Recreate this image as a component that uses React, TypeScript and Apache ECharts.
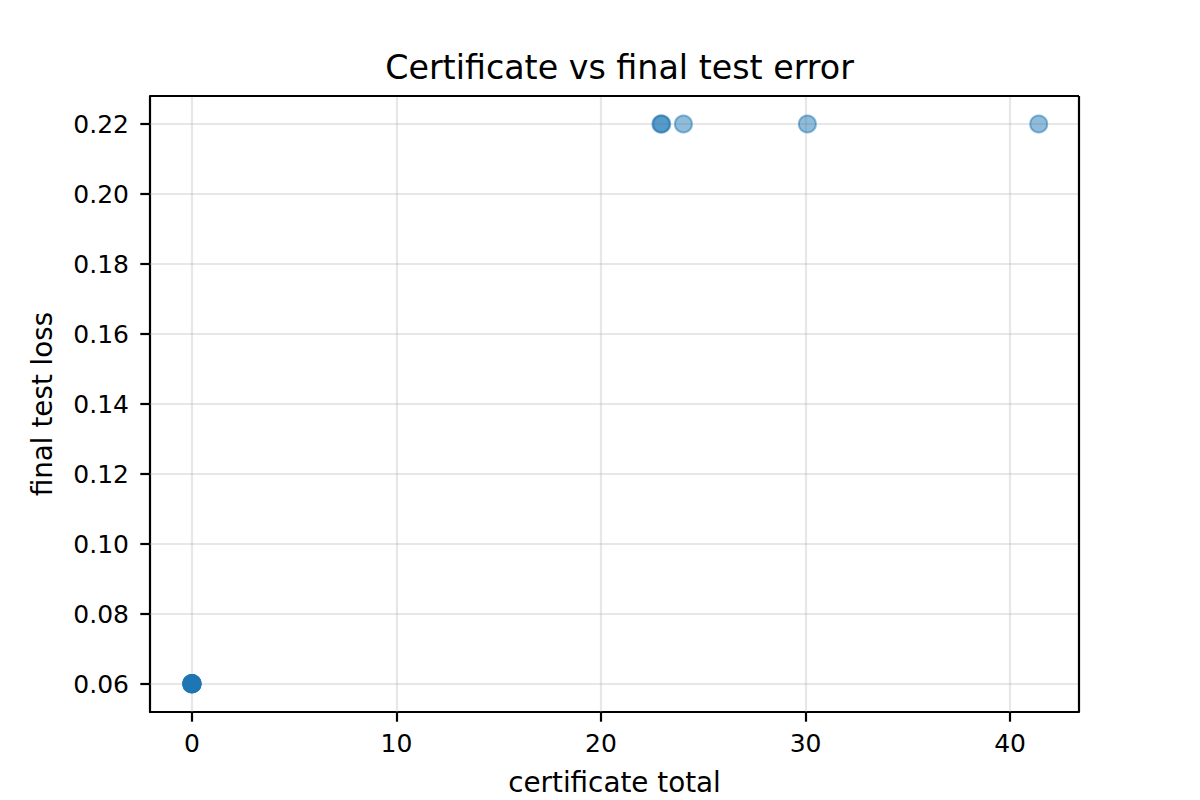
import React, { useEffect, useRef } from "react";
import * as echarts from "echarts";

const xTicks = [0, 10, 20, 30, 40];
const yTicks = [0.06, 0.08, 0.1, 0.12, 0.14, 0.16, 0.18, 0.2, 0.22];
const certificateTotal = [0, 0, 0, 0, 0, 0, 0, 0, 22.93, 22.97, 24.03, 30.09, 41.4];
const finalTestLoss = [0.0601, 0.0601, 0.0601, 0.0601, 0.0601, 0.0601, 0.0601, 0.0601, 0.22, 0.22, 0.22, 0.22, 0.22];

const FONT = "DejaVu Sans";

export default function App() {
  const ref = useRef<HTMLDivElement>(null);
  useEffect(() => {
    document.body.style.margin = "0";
    const chart = echarts.init(ref.current!, null, { renderer: "svg" });
    const points = certificateTotal.map((x, i) => [x, finalTestLoss[i]]);
    const gridStyle = { color: "#b0b0b0", opacity: 0.3, width: 2.2, type: "solid" as const };
    const spine = { stroke: "#000", lineWidth: 2.2 };
    chart.setOption({
      animation: false,
      backgroundColor: "#ffffff",
      title: {
        text: "Certificate vs final test error",
        left: 614.5,
        textAlign: "center",
        top: 46,
        textStyle: { fontFamily: FONT, fontSize: 33.3, fontWeight: "normal", color: "#000" },
      },
      grid: {
        left: 150,
        right: 121,
        top: 96,
        bottom: 88,
        containLabel: false,
        outerBoundsMode: "none",
        show: false,
      },
      xAxis: {
        type: "value",
        min: -2.05,
        max: 43.37,
        name: "certificate total",
        nameLocation: "middle",
        nameGap: 56,
        nameTextStyle: { fontFamily: FONT, fontSize: 27.8, color: "#000" },
        axisLine: { show: true, onZero: false, lineStyle: { color: "#000", width: 2.2 } },
        axisTick: { show: true, length: 9.7, customValues: xTicks, lineStyle: { color: "#000", width: 2.2 } },
        axisLabel: { customValues: xTicks, margin: 19, fontFamily: FONT, fontSize: 25, color: "#000" },
        splitLine: { show: false },
      },
      yAxis: {
        type: "value",
        min: 0.052,
        max: 0.228,
        name: "final test loss",
        nameLocation: "middle",
        nameGap: 94,
        nameRotate: 90,
        nameTextStyle: { fontFamily: FONT, fontSize: 27.8, color: "#000" },
        axisLine: { show: true, onZero: false, lineStyle: { color: "#000", width: 2.2 } },
        axisTick: { show: true, length: 9.7, customValues: yTicks, lineStyle: { color: "#000", width: 2.2 } },
        axisLabel: {
          customValues: yTicks,
          margin: 21,
          fontFamily: FONT,
          fontSize: 25,
          color: "#000",
          formatter: (v: number) => v.toFixed(2),
        },
        splitLine: { show: false },
      },
      graphic: [
        {
          type: "line",
          shape: { x1: 150, y1: 96, x2: 1079, y2: 96 },
          style: spine,
          z: 100,
        },
        {
          type: "line",
          shape: { x1: 1079, y1: 96, x2: 1079, y2: 712 },
          style: spine,
          z: 100,
        },
      ],
      series: [
        {
          type: "scatter",
          data: points,
          symbolSize: 17,
          itemStyle: {
            color: "rgba(31,119,180,0.62)",
            borderColor: "rgba(31,119,180,0.65)",
            borderWidth: 2,
          },
          z: 5,
          markLine: {
            silent: true,
            symbol: "none",
            label: { show: false },
            lineStyle: gridStyle,
            z: 1,
            data: [
              ...xTicks.map((v) => ({ xAxis: v })),
              ...yTicks.map((v) => ({ yAxis: v })),
            ],
          },
        },
      ],
    });
    return () => chart.dispose();
  }, []);
  return <div ref={ref} style={{ width: 1200, height: 800 }} />;
}
